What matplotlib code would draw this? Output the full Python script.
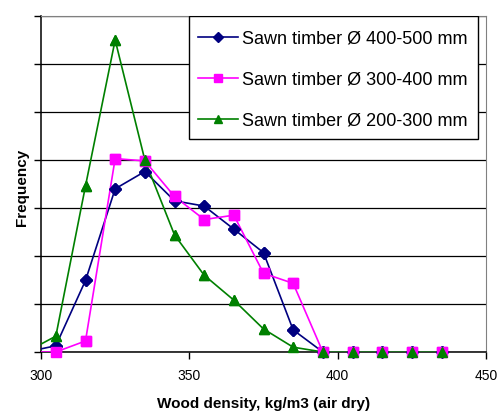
import matplotlib
matplotlib.use("Agg")
import matplotlib.pyplot as plt
from matplotlib.patches import Rectangle

plt.rcParams["font.family"] = ["Liberation Sans", "DejaVu Sans"]

# -------- Data (y in gridline units)
density = [295, 305, 315, 325, 335, 345, 355, 365, 375, 385, 395, 405, 415, 425, 435]
freq_400_500 = [0.0, 0.13, 1.49, 3.40, 3.76, 3.15, 3.04, 2.56, 2.07, 0.46, 0.0, 0.0, 0.0, 0.0, 0.0]
freq_300_400 = [0.0, 0.0, 0.23, 4.03, 3.98, 3.24, 2.76, 2.85, 1.64, 1.43, 0.0, 0.0, 0.0, 0.0, 0.0]
freq_200_300 = [0.0, 0.33, 3.46, 6.50, 4.00, 2.44, 1.60, 1.08, 0.48, 0.10, 0.0, 0.0, 0.0, 0.0, 0.0]

labels = ["Sawn timber Ø 400-500 mm", "Sawn timber Ø 300-400 mm", "Sawn timber Ø 200-300 mm"]
colors = ["#000080", "#FF00FF", "#008000"]
markers = ["D", "s", "^"]
msizes = [6, 6.5, 7.5]

fig = plt.figure(figsize=(4.99, 4.12), dpi=100)
ax = fig.add_axes([41 / 499, 60 / 412, 445 / 499, 336 / 412])

for ys, lab, col, mk, ms in zip([freq_400_500, freq_300_400, freq_200_300], labels, colors, markers, msizes):
    # line clipped to the axes, markers allowed to spill over the axis line
    ax.plot(density, ys, color=col, lw=1.2, marker=mk, ms=ms, markevery=slice(1, None),
            label=lab, zorder=3)
    ax.plot(density[1:], ys[1:], ls="none", color=col, marker=mk, ms=ms, clip_on=False, zorder=4)

ax.set_xlim(300, 450)
ax.set_ylim(0, 7)
ax.set_xticks([300, 350, 400, 450])
ax.set_yticks(range(8))
ax.set_yticklabels([])
ax.grid(axis="y", color="black", lw=0.9)
ax.set_axisbelow(True)
ax.tick_params(axis="both", direction="out", length=5, width=1, labelsize=10, color="black")
ax.tick_params(axis="x", pad=7)

for side in ["top", "right"]:
    ax.spines[side].set_color("#808080")
for side in ["left", "bottom"]:
    ax.spines[side].set_color("black")
    ax.spines[side].set_linewidth(1.1)

ax.set_xlabel("Wood density, kg/m3 (air dry)", fontsize=11, fontweight="bold")
ax.set_ylabel("Frequency", fontsize=11, fontweight="bold")
ax.xaxis.set_label_coords(0.5, -0.133)
ax.yaxis.set_label_coords(-0.027, 0.49)

# legend frame drawn by hand so the box size can be matched independently
ax.add_patch(Rectangle((0.3326, 0.634), 0.649, 0.366, transform=ax.transAxes,
                       facecolor="white", edgecolor="black", lw=1.0, zorder=4.5))
leg = ax.legend(loc="upper left", bbox_to_anchor=(0.3326, 0.983), borderaxespad=0,
                fontsize=13, frameon=False, handlelength=2.2,
                labelspacing=1.32, borderpad=0.5, handletextpad=0.25, markerscale=0.8)
leg.set_zorder(5)

fig.savefig("out.png", dpi=100)
